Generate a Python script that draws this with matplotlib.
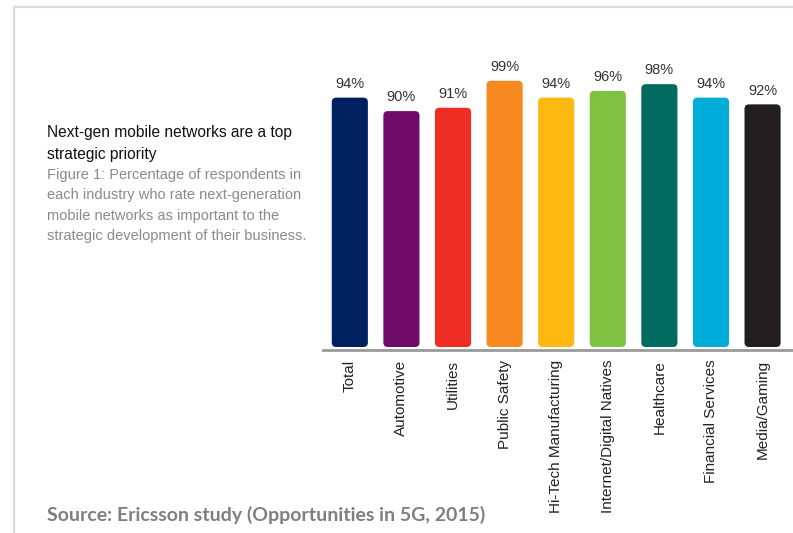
import matplotlib
matplotlib.use("Agg")
import matplotlib.pyplot as plt
from matplotlib.patches import FancyBboxPatch
from matplotlib.lines import Line2D

categories = ["Total", "Automotive", "Utilities", "Public Safety", "Hi-Tech Manufacturing",
              "Internet/Digital Natives", "Healthcare", "Financial Services", "Media/Gaming"]
values = [94, 90, 91, 99, 94, 96, 98, 94, 92]
colors = ["#012060", "#6f0a68", "#ee2e24", "#f6891f", "#fdb912",
          "#7fc241", "#006a5e", "#00add8", "#231f20"]

W, H = 793, 533
fig = plt.figure(figsize=(W/100, H/100), dpi=100)
fig.patch.set_facecolor("white")

def fx(px): return px / W
def fy(py): return 1 - py / H

# frame lines
fig.add_artist(Line2D([fx(14), 1], [fy(7), fy(7)], color="#dcdcdc", lw=1.6))
fig.add_artist(Line2D([fx(14), fx(14)], [fy(7), 0], color="#dcdcdc", lw=1.6))

ax_l, ax_b, ax_t = 323, 350, 20
ax = fig.add_axes([fx(ax_l), fy(ax_b), 1 - fx(ax_l), (ax_b - ax_t) / H])
yu = 3.37          # px per value unit
bar_floor = 20     # visual floor of the bars (value scale does not start at 0)
ylo = bar_floor - 3 / yu
ax.set_ylim(ylo, ylo + (ax_b - ax_t) / yu)
ax.set_xlim(-0.52, 8.59)

x = list(range(len(categories)))
heights = [v - bar_floor for v in values]
bars = ax.bar(x, heights, width=0.70, bottom=bar_floor, color=colors)
xu = 51.56  # px per x unit
r_px = 4.5
for b, c in zip(bars, colors):
    bx, by, bw, bh = b.get_x(), b.get_y(), b.get_width(), b.get_height()
    b.set_visible(False)
    p = FancyBboxPatch((bx, by), bw, bh,
                       boxstyle=f"round,pad=0,rounding_size={r_px/xu}",
                       mutation_aspect=(xu / yu), facecolor=c, edgecolor="none")
    ax.add_patch(p)

for xi, v in zip(x, values):
    ax.text(xi, v + 2.0, f"{v}%", ha="center", va="bottom", fontsize=10.5,
            color="#333333", family="Liberation Sans")

for s in ["top", "right", "left"]:
    ax.spines[s].set_visible(False)
ax.spines["bottom"].set_color("#9a9a9a")
ax.spines["bottom"].set_linewidth(2)
ax.set_yticks([])
ax.set_xticks(x)
ax.set_xticklabels(categories, rotation=90, fontsize=11, color="#222222",
                   family="Liberation Sans", va="top", ha="center")
ax.tick_params(axis="x", length=0, pad=7)
ax.set_facecolor("none")

# left texts
fig.text(fx(47), fy(133), "Next-gen mobile networks are a top", fontsize=11.2,
         color="#111111", family="Liberation Sans", va="center", ha="left")
fig.text(fx(47), fy(155), "strategic priority", fontsize=11.2,
         color="#111111", family="Liberation Sans", va="center", ha="left")
grey_lines = ["Figure 1: Percentage of respondents in",
              "each industry who rate next-generation",
              "mobile networks as important to the",
              "strategic development of their business."]
for i, t in enumerate(grey_lines):
    fig.text(fx(47), fy(175 + i * 20.3), t, fontsize=10.5, color="#8a8a8a",
             family="Liberation Sans", va="center", ha="left")

fig.text(fx(47), fy(515), "Source: Ericsson study (Opportunities in 5G, 2015)",
         fontsize=14, fontweight="bold", color="#7f7f7f", family="Lato",
         va="center", ha="left")

fig.savefig("out.png", dpi=100)
